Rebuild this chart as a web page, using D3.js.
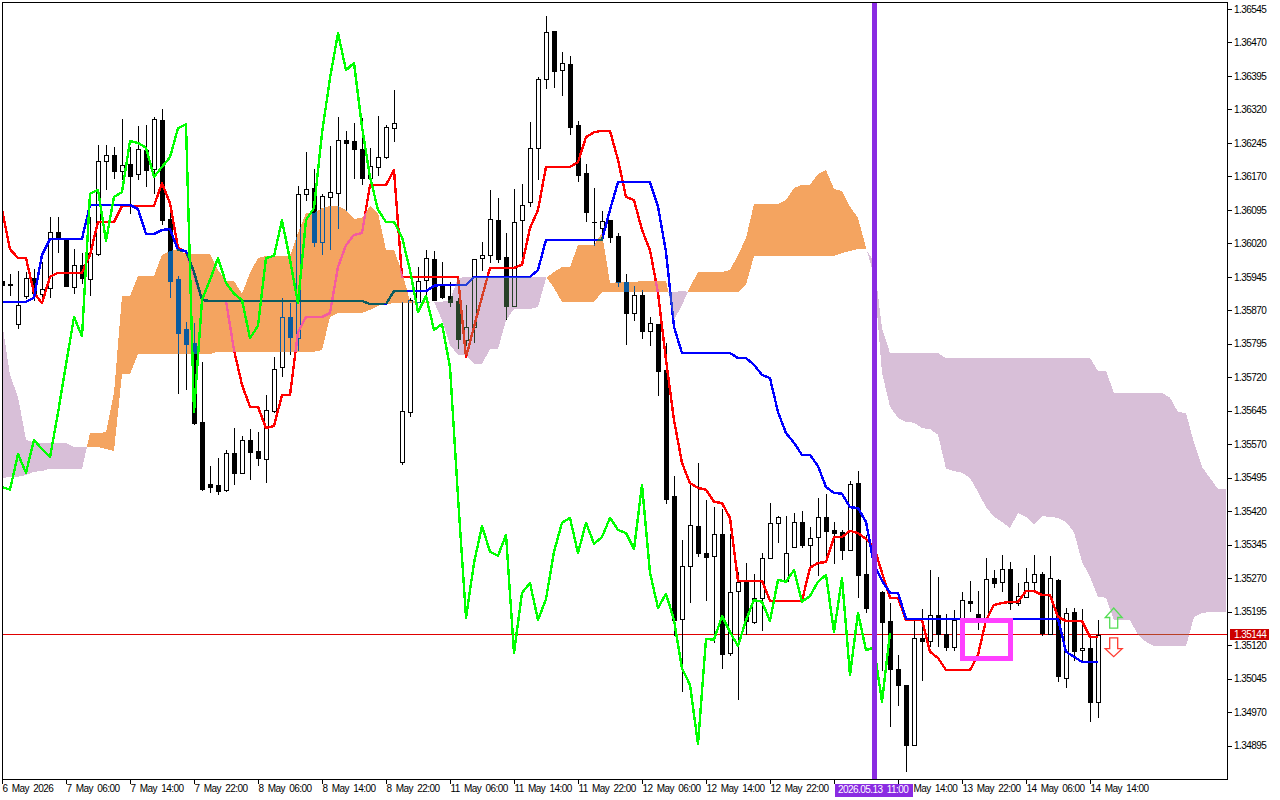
<!DOCTYPE html>
<html><head><meta charset="utf-8">
<script src="https://cdn.jsdelivr.net/npm/d3@7"></script>
<style>
html,body{margin:0;padding:0;background:#fff;overflow:hidden}
text{font-family:'Liberation Sans',Arial,sans-serif;font-size:10px;letter-spacing:-0.55px;word-spacing:2px}
</style></head><body>
<svg id="c" width="1280" height="800"></svg>
<script>
// All series are prices in points above 1.34000, indexed by hourly bar.
const opens=[1936,1928,1839,1902,1942,1907,1920,2045,2030,1922,
1972,1940,1996,2205,2218,2182,2198,2175,2229,2187,
2296,2075,1940,1828,1797,1620,1481,1479,1468,1550,
1506,1580,1555,1537,1645,1743,1855,1808,2131,2144,
2023,2124,2133,2252,2249,2231,2166,2191,2213,2278,
1530,1642,1889,1938,1985,1925,1902,1891,1804,1833,
1987,1994,2072,1989,1880,2072,2113,2234,2388,2496,
2408,2422,2285,2178,2068,2054,2072,2037,1933,1864,
1904,1824,1839,1736,1454,1178,1297,1387,1326,1320,
1369,1102,1241,1264,1172,1226,1315,1394,1264,1340,
1396,1344,1362,1407,1378,1373,1333,1483,1279,1243,
1239,1174,1067,1031,896,1136,1129,1188,1145,1116,
1174,1219,1190,1181,1270,1262,1291,1214,1228,1262,
1279,1145,1266,1047,1194,1109,1114,993];
const highs=[1940,1951,1958,1956,1963,1978,2079,2079,2032,2007,
1998,2079,2240,2240,2236,2299,2236,2283,2285,2303,
2321,2095,1947,1844,1842,1754,1521,1539,1557,1606,
1589,1604,1597,1680,1766,1898,1886,2149,2225,2187,
2131,2238,2303,2272,2290,2301,2234,2305,2285,2364,
1889,1898,1967,2005,2003,1978,1933,1898,1882,1985,
2023,2140,2122,2043,2142,2153,2292,2393,2529,2496,
2449,2440,2294,2198,2144,2093,2072,2043,1951,1925,
1916,1855,1839,1797,1499,1356,1483,1528,1445,1429,
1425,1369,1284,1304,1279,1326,1438,1409,1409,1416,
1421,1385,1450,1459,1396,1378,1488,1510,1367,1290,
1241,1214,1098,1031,1176,1201,1288,1273,1190,1199,
1239,1264,1241,1315,1288,1322,1306,1259,1293,1322,
1284,1320,1268,1203,1203,1201,1143,1176];
const lows=[1922,1904,1830,1898,1893,1900,1900,2001,1925,1909,
1931,1904,1994,2142,2166,2164,2088,2164,2149,2133,
2063,1900,1685,1694,1615,1468,1463,1459,1465,1481,
1506,1492,1524,1485,1642,1723,1772,1781,2117,2014,
1996,2007,2054,2095,2166,2153,2144,2173,2211,2249,
1526,1633,1889,1904,1893,1898,1880,1786,1792,1799,
1960,1978,1978,1851,1880,1989,2104,2164,2368,2370,
2352,2265,2160,2070,2016,2028,2023,1925,1795,1848,
1808,1792,1680,1438,1143,1017,1217,1320,1221,1127,
1069,1098,999,1145,1170,1154,1315,1351,1264,1340,
1340,1297,1277,1306,1304,1313,1333,1228,1194,1180,
1064,939,986,838,896,1042,1118,1118,1109,1109,
1170,1196,1156,1181,1250,1241,1201,1210,1228,1241,
1143,1145,1040,1026,1087,1082,950,959];
const closes=[1927,1926,1882,1942,1909,1918,2045,2034,1925,1972,
1942,1998,2205,2218,2182,2196,2171,2231,2184,2299,
2072,1936,1819,1795,1618,1470,1474,1465,1550,1506,
1580,1553,1539,1647,1739,1855,1810,2131,2142,2023,
2126,2135,2252,2245,2231,2166,2193,2213,2281,2290,
1645,1893,1936,1987,1893,1900,1889,1806,1833,1985,
1994,2075,1985,1880,2068,2106,2234,2388,2493,2406,
2424,2281,2173,2090,2068,2070,2034,1933,1864,1904,
1824,1842,1734,1447,1176,1297,1389,1326,1317,1369,
1100,1239,1262,1174,1226,1315,1394,1407,1326,1396,
1344,1360,1407,1376,1371,1333,1481,1277,1203,1199,
1172,1067,1031,896,1136,1129,1188,1145,1116,1176,
1221,1214,1181,1268,1259,1291,1214,1230,1262,1279,
1147,1270,1051,1192,1107,1114,993,1143];
const tenkan=[2095,2007,1987,1987,1909,1886,1945,1954,1954,1954,
1954,1994,2068,2068,2068,2104,2104,2104,2104,2104,
2155,2110,2010,2001,1949,1893,1891,1891,1891,1781,
1703,1654,1654,1606,1611,1680,1680,1821,1855,1855,
1855,1864,1967,2016,2039,2043,2151,2151,2151,2184,
1945,1945,1945,1945,1945,1945,1945,1945,1765,1833,
1900,1965,1965,1965,1965,1972,2054,2095,2191,2191,
2191,2191,2202,2258,2269,2272,2272,2207,2124,2117,
2050,2005,1909,1759,1624,1528,1483,1472,1468,1441,
1438,1405,1264,1264,1264,1264,1219,1219,1219,1219,
1219,1293,1304,1306,1362,1362,1376,1371,1358,1340,
1282,1226,1226,1176,1176,1176,1105,1091,1064,1064,
1064,1064,1098,1176,1210,1214,1217,1217,1241,1241,
1232,1232,1183,1174,1174,1174,1138,1138];
const kijun=[1889,1889,1889,1889,1898,1994,2030,2030,2030,2030,
2030,2106,2106,2106,2106,2106,2106,2097,2041,2041,
2050,2052,2005,2003,1956,1893,1891,1891,1891,1891,
1891,1891,1891,1891,1891,1891,1891,1891,1891,1891,
1891,1891,1891,1891,1891,1891,1884,1884,1884,1913,
1913,1913,1913,1913,1925,1927,1927,1927,1927,1945,
1945,1945,1945,1945,1945,1945,1945,1960,2028,2028,
2028,2028,2028,2028,2028,2028,2095,2157,2157,2157,
2157,2157,2102,2001,1833,1774,1774,1774,1774,1774,
1774,1774,1763,1763,1748,1725,1718,1642,1595,1573,
1546,1546,1521,1474,1461,1459,1429,1427,1396,1300,
1264,1237,1237,1179,1179,1179,1179,1179,1179,1179,
1179,1179,1179,1179,1179,1179,1179,1179,1179,1179,
1179,1179,1179,1105,1094,1082,1082,1082];
const chikou=[1474,1468,1548,1506,1580,1559,1541,1640,1748,1855,
1812,2131,2140,2025,2124,2135,2249,2245,2234,2169,
2191,2213,2278,2287,1642,1893,1938,1987,1931,1907,
1893,1808,1835,1987,1992,2072,1983,1886,2072,2099,
2267,2390,2491,2408,2424,2281,2169,2095,2068,2068,
2034,1960,1866,1902,1826,1839,1743,1452,1181,1304,
1387,1329,1320,1367,1102,1237,1259,1176,1223,1329,
1394,1405,1326,1394,1347,1362,1405,1378,1371,1335,
1479,1282,1203,1235,1176,1067,1031,898,1134,1132,
1185,1149,1118,1176,1221,1217,1174,1266,1262,1288,
1217,1230,1262,1277,1149,1270,1053,1192,1109,1114,
993,1147];
const spanA=[1494,1497,1497,1501,1508,1510,1515,1515,1515,1515,
1515,1595,1595,1597,1685,1902,1902,1947,1947,1947,
1994,2003,2007,1996,1996,1996,1996,1960,1936,1936,
1907,1954,1987,1992,1992,1992,1992,2043,2088,2088,
2099,2104,2104,2095,2075,2077,2104,2088,2005,2005,
1956,1891,1889,1889,1889,1848,1792,1770,1770,1750,
1750,1783,1783,1848,1873,1873,1873,1877,1942,1956,
1967,1967,2016,2016,2016,2043,1931,1933,1933,1933,
1936,1936,1936,1936,1848,1882,1922,1956,1956,1956,
1956,1960,1994,2032,2108,2108,2108,2108,2117,2144,
2151,2151,2175,2184,2142,2137,2102,2077,2010,1949,
1730,1654,1629,1620,1618,1606,1604,1591,1515,1510,
1506,1494,1463,1429,1407,1396,1382,1416,1407,1391,
1409,1407,1405,1396,1373,1306,1273,1228,1226,1176,
1176,1176,1143,1127,1118,1118,1118,1118,1118,1183,
1192,1194,1194,1194];
const spanB=[1844,1725,1676,1580,1573,1573,1573,1573,1573,1564,
1564,1564,1564,1559,1555,1727,1727,1772,1772,1772,
1772,1772,1772,1772,1772,1772,1772,1777,1777,1777,
1777,1777,1777,1777,1777,1777,1777,1777,1777,1777,
1781,1855,1864,1864,1864,1864,1871,1880,1884,1886,
1886,1886,1886,1886,1889,1889,1893,1942,1945,1945,
1945,1945,1945,1945,1945,1945,1945,1945,1945,1920,
1889,1889,1889,1889,1889,1911,1911,1911,1911,1911,
1911,1911,1911,1911,1911,1913,1911,1911,1911,1911,
1911,1911,1911,1927,1992,1992,1992,1992,1992,1992,
1992,1992,1992,1992,1992,1998,2003,2007,2007,1978,
1830,1774,1774,1774,1774,1774,1774,1774,1763,1763,
1763,1763,1763,1763,1763,1763,1763,1763,1763,1763,
1763,1763,1763,1763,1763,1763,1763,1734,1734,1685,
1685,1685,1685,1685,1685,1685,1674,1642,1640,1573,
1519,1494,1470,1470];
const yTicks=[2545,2470,2395,2320,2245,2170,2095,2020,1945,1870,1795,1720,1645,1570,1495,1420,1345,1270,1195,1120,1045,970,895];
const xTickBars=[0,8,16,24,32,40,48,56,64,72,80,88,96,104,112,120,128,136];
// bar 104's label sits wholly under the marker tag, and the tag hides the "13" of bar 112's
const xTickLabels=["6 May 2026","7 May 06:00","7 May 14:00","7 May 22:00","8 May 06:00","8 May 14:00","8 May 22:00","11 May 06:00","11 May 14:00","11 May 22:00","12 May 06:00","12 May 14:00","12 May 22:00","","May 14:00","13 May 22:00","14 May 06:00","14 May 14:00"];
const lastPrice=1144, markerBar=109, markerLabel="2026.05.13 11:00";
const boxBars=[120.06,126.06], boxPrices=[1175,1091];
const arrowBar=139, upArrowPrices=[1203,1158], downArrowPrices=[1136,1094];

const svg=d3.select('#c');
const L=2,T=2,R=1227,B=779;
const xs=d3.scaleLinear().domain([0,153]).range([2,1226]);
const ys=d3.scaleLinear().domain([2545,895]).range([9,745.5]);
const fmt=v=>(1.34+v/1e5).toFixed(5);

svg.append('rect').attr('width',1280).attr('height',800).attr('fill','#fff');
svg.append('defs').append('clipPath').attr('id','plot').append('rect').attr('x',L).attr('y',T).attr('width',R-L).attr('height',B-T);
const plot=svg.append('g').attr('clip-path','url(#plot)');
// the clip makes this group its own blend context, so it needs its own white backdrop
plot.append('rect').attr('x',L).attr('y',T).attr('width',R-L).attr('height',B-T).attr('fill','#fff');

// last price line sits behind the bars
plot.append('line').attr('x1',L).attr('x2',R).attr('y1',Math.round(ys(lastPrice))+.5).attr('y2',Math.round(ys(lastPrice))+.5)
  .attr('stroke','#e00000').attr('shape-rendering','crispEdges');

// candles
const bars=d3.range(opens.length).map(i=>({i,o:opens[i],h:highs[i],l:lows[i],c:closes[i]}));
const cg=plot.append('g').attr('shape-rendering','crispEdges');
const r=Math.round;
cg.selectAll('line').data(bars).join('line')
  .attr('x1',d=>xs(d.i)+.5).attr('x2',d=>xs(d.i)+.5)
  .attr('y1',d=>r(ys(d.h))).attr('y2',d=>r(ys(d.l))+1).attr('stroke','#000');
cg.selectAll('rect').data(bars).join('rect')
  .attr('x',d=>d.c>d.o?xs(d.i)-1.5:xs(d.i)-2)
  .attr('width',d=>d.c>d.o?4:5)
  .attr('y',d=>r(ys(Math.max(d.o,d.c)))+(d.c>d.o?.5:0))
  .attr('height',d=>{const t=r(ys(Math.max(d.o,d.c))),b=r(ys(Math.min(d.o,d.c)));return d.c>d.o?Math.max(1,b-t):Math.max(1,b-t+1);})
  .attr('fill',d=>d.c>d.o?'#fff':'#000')
  .attr('stroke',d=>d.c>d.o?'#000':'none');

const line=d3.line().x((d,i)=>xs(i)).y(d=>ys(d));
const drawLine=(vals,col)=>plot.append('path').attr('d',line(vals)).attr('fill','none').attr('stroke',col)
  .attr('stroke-width',2.4).attr('stroke-linejoin','round').attr('shape-rendering','crispEdges');
drawLine(tenkan,'#ff0000');
drawLine(kijun,'#0000ff');

// cloud: split at A/B crossings, painted as an inverting layer like the terminal does
const pts=[];
spanA.forEach((a,i)=>{
  const b=spanB[i];pts.push({k:i,a,b});
  if(i<spanA.length-1){
    const d0=a-b,d1=spanA[i+1]-spanB[i+1];
    if(d0*d1<0){const t=d0/(d0-d1);const v=a+t*(spanA[i+1]-a);pts.push({k:i+t,a:v,b:v});}
  }
});
const area=d3.area().x(d=>xs(d.k)).y0(d=>ys(d.a)).y1(d=>ys(d.b));
plot.append('path').attr('d',area.defined(d=>d.a>=d.b)(pts)).attr('fill','#0b5b9f')
  .style('mix-blend-mode','difference').attr('shape-rendering','crispEdges');
plot.append('path').attr('d',area.defined(d=>d.a<=d.b)(pts)).attr('fill','#274027')
  .style('mix-blend-mode','difference').attr('shape-rendering','crispEdges');

drawLine(chikou,'#00ff00');

// vertical marker
plot.append('rect').attr('x',xs(markerBar)-2).attr('width',5).attr('y',T).attr('height',B-T)
  .attr('fill','#8a2be2').attr('shape-rendering','crispEdges');

// highlight box
plot.append('rect').attr('x',xs(boxBars[0])).attr('width',xs(boxBars[1])-xs(boxBars[0]))
  .attr('y',ys(boxPrices[0])).attr('height',ys(boxPrices[1])-ys(boxPrices[0]))
  .attr('fill','none').attr('stroke','#ff40ff').attr('stroke-width',5).attr('shape-rendering','crispEdges');

// arrows
const ax=xs(arrowBar)-.3;
const up=d3.path(),y0=ys(upArrowPrices[0]),y1=ys(upArrowPrices[1]),yh=y0+9.5;
up.moveTo(ax,y0);up.lineTo(ax+8.5,yh);up.lineTo(ax+4,yh);up.lineTo(ax+4,y1);up.lineTo(ax-4,y1);up.lineTo(ax-4,yh);up.lineTo(ax-8.5,yh);up.closePath();
plot.append('path').attr('d',up.toString()).attr('fill','none').attr('stroke','#55dd55').attr('stroke-width',1.3);
const dn=d3.path(),d0=ys(downArrowPrices[0]),d1=ys(downArrowPrices[1]),dh=d1-8;
dn.moveTo(ax-4,d0);dn.lineTo(ax+4,d0);dn.lineTo(ax+4,dh);dn.lineTo(ax+8.5,dh);dn.lineTo(ax,d1);dn.lineTo(ax-8.5,dh);dn.lineTo(ax-4,dh);dn.closePath();
plot.append('path').attr('d',dn.toString()).attr('fill','none').attr('stroke','#ff3b30').attr('stroke-width',1.3);

// frame
svg.append('rect').attr('x',L+.5).attr('y',T+.5).attr('width',R-L).attr('height',B-T)
  .attr('fill','none').attr('stroke','#000').attr('shape-rendering','crispEdges');

// axes
const ay=svg.append('g').attr('transform',`translate(${R},0)`)
  .call(d3.axisRight(ys).tickValues(yTicks).tickFormat(fmt).tickSize(5).tickPadding(2));
ay.select('.domain').remove();
ay.selectAll('text').attr('fill','#000');
ay.selectAll('line').attr('stroke','#000').attr('shape-rendering','crispEdges');

const ax2=svg.append('g').attr('transform',`translate(0,${B})`)
  .call(d3.axisBottom(xs).tickValues(xTickBars).tickFormat((d,i)=>xTickLabels[i]).tickSize(5).tickPadding(0));
ax2.select('.domain').remove();
ax2.selectAll('line').attr('stroke','#000').attr('shape-rendering','crispEdges');
ax2.selectAll('text').attr('text-anchor','start').attr('dx',d=>d===112?15:0).attr('y',6).attr('dy','0.71em').attr('fill','#000');

// last price tag
const py=Math.round(ys(lastPrice));
svg.append('rect').attr('x',1230).attr('y',py-5).attr('width',39).attr('height',11).attr('fill','#cc0000');
svg.append('text').attr('x',1234).attr('y',py+4).attr('fill','#fff').text(fmt(lastPrice));

// marker time tag
svg.append('rect').attr('x',835).attr('y',784).attr('width',78).attr('height',13).attr('fill','#8a2be2');
svg.append('text').attr('x',838).attr('y',793).attr('fill','#fff').text(markerLabel);
</script>
</body></html>
